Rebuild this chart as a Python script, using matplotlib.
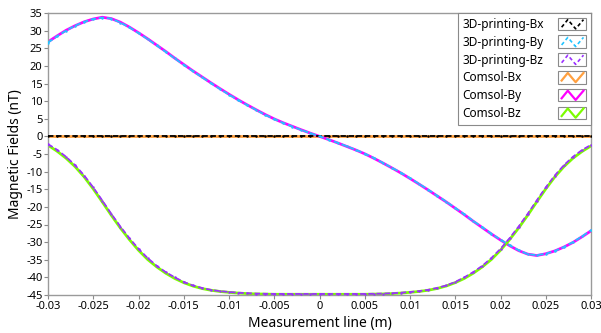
import numpy as np
import matplotlib
matplotlib.use("Agg")
import matplotlib.pyplot as plt
from matplotlib.legend_handler import HandlerBase
from matplotlib.patches import Rectangle
from matplotlib.lines import Line2D

plt.rcParams['font.family'] = ['Noto Sans', 'DejaVu Sans']
plt.rcParams['axes.unicode_minus'] = False

# ---------------- data ----------------
x_pos = [-0.030, -0.029, -0.028, -0.027, -0.026, -0.025, -0.024, -0.023, -0.022, -0.021,
         -0.020, -0.019, -0.018, -0.017, -0.016, -0.015, -0.014, -0.013, -0.012, -0.011,
         -0.010, -0.009, -0.008, -0.007, -0.006, -0.005, -0.004, -0.003, -0.002, -0.001,
         0.000, 0.001, 0.002, 0.003, 0.004, 0.005, 0.006, 0.007, 0.008, 0.009,
         0.010, 0.011, 0.012, 0.013, 0.014, 0.015, 0.016, 0.017, 0.018, 0.019,
         0.020, 0.021, 0.022, 0.023, 0.024, 0.025, 0.026, 0.027, 0.028, 0.029, 0.030]

comsol_bx = [0.0] * 61
comsol_by = [26.8, 28.5, 30.1, 31.4, 32.5, 33.3, 33.8, 33.4, 32.4, 31.0,
             29.4, 27.7, 25.9, 24.1, 22.2, 20.4, 18.6, 16.9, 15.2, 13.55,
             11.95, 10.4, 8.95, 7.55, 6.2, 4.95, 3.85, 2.85, 1.85, 0.9,
             0.0, -0.9, -1.85, -2.85, -3.85, -4.95, -6.2, -7.55, -8.95, -10.4,
             -11.95, -13.55, -15.2, -16.9, -18.6, -20.4, -22.2, -24.1, -25.9, -27.7,
             -29.4, -31.0, -32.4, -33.4, -33.8, -33.3, -32.5, -31.4, -30.1, -28.5, -26.8]
comsol_bz = [-2.5, -4.2, -6.2, -8.6, -11.5, -14.9, -18.6, -22.4, -26.0, -29.3,
             -32.3, -34.9, -37.0, -38.8, -40.3, -41.5, -42.45, -43.15, -43.65, -44.0,
             -44.25, -44.45, -44.6, -44.7, -44.75, -44.8, -44.8, -44.8, -44.8, -44.8,
             -44.8, -44.8, -44.8, -44.8, -44.8, -44.8, -44.75, -44.7, -44.6, -44.45,
             -44.25, -44.0, -43.65, -43.15, -42.45, -41.5, -40.3, -38.8, -37.0, -34.9,
             -32.3, -29.3, -26.0, -22.4, -18.6, -14.9, -11.5, -8.6, -6.2, -4.3, -2.7]

print_bx = [0.0] * 61
print_by = [26.6, 28.4, 30.0, 31.4, 32.5, 33.3, 33.7, 33.4, 32.3, 30.9,
            29.3, 27.6, 25.8, 24.0, 22.1, 20.3, 18.5, 16.8, 15.1, 13.45,
            11.85, 10.3, 8.9, 7.5, 6.1, 4.9, 3.8, 2.8, 1.8, 0.9,
            0.0, -0.9, -1.8, -2.8, -3.8, -4.9, -6.1, -7.5, -8.9, -10.3,
            -11.85, -13.45, -15.1, -16.8, -18.5, -20.3, -22.1, -24.0, -25.8, -27.6,
            -29.3, -30.9, -32.3, -33.4, -33.7, -33.3, -32.5, -31.4, -30.0, -28.4, -26.6]
print_bz = [-2.2, -3.8, -5.8, -8.2, -11.1, -14.5, -18.2, -22.0, -25.6, -28.9,
            -31.9, -34.5, -36.7, -38.5, -40.0, -41.3, -42.3, -43.0, -43.55, -43.9,
            -44.15, -44.35, -44.5, -44.6, -44.65, -44.7, -44.7, -44.7, -44.7, -44.7,
            -44.7, -44.7, -44.7, -44.7, -44.7, -44.7, -44.65, -44.6, -44.5, -44.35,
            -44.15, -43.9, -43.55, -43.0, -42.3, -41.3, -40.0, -38.5, -36.7, -34.5,
            -31.9, -28.9, -25.6, -22.0, -18.2, -14.5, -11.1, -8.2, -5.8, -3.9, -2.4]

labels_print = ['3D-printing-Bx', '3D-printing-By', '3D-printing-Bz']
labels_comsol = ['Comsol-Bx', 'Comsol-By', 'Comsol-Bz']
colors_print = ['#000000', '#22c4ff', '#9b30ff']
colors_comsol = ['#ffa040', '#ff00ff', '#7cfc00']

x_ticks = [-0.03, -0.025, -0.02, -0.015, -0.01, -0.005, 0, 0.005, 0.01, 0.015, 0.02, 0.025, 0.03]
x_ticklabels = ['-0.03', '-0.025', '-0.02', '-0.015', '-0.01', '-0.005', '0',
                '0.005', '0.01', '0.015', '0.02', '0.025', '0.03']
y_ticks = list(range(-45, 40, 5))


class BoxZig(HandlerBase):
    def __init__(self, dashed=False):
        super().__init__()
        self.dashed = dashed

    def create_artists(self, legend, orig_handle, xdescent, ydescent,
                       width, height, fontsize, trans):
        x0, y0 = -xdescent, -ydescent
        rect = Rectangle((x0, y0), width, height, facecolor='white',
                         edgecolor='#8a8a8a', lw=0.8, transform=trans)
        xs = x0 + width * np.array([0.12, 0.34, 0.62, 0.90])
        ys = y0 + height * np.array([0.25, 0.85, 0.12, 0.85])
        line = Line2D(xs, ys, color=orig_handle.get_color(), transform=trans,
                      lw=1.6 if not self.dashed else 1.2,
                      linestyle=(0, (2.2, 1.6)) if self.dashed else '-')
        return [rect, line]


fig = plt.figure(figsize=(6.01, 3.33), dpi=100)
ax = fig.add_axes([48 / 601, 1 - 295 / 333, (591 - 48) / 601, (295 - 13) / 333])

comsol_lines = []
for ys, c, lab in zip([comsol_bx, comsol_by, comsol_bz], colors_comsol, labels_comsol):
    ln, = ax.plot(x_pos, ys, color=c, lw=2.0, label=lab, zorder=2)
    comsol_lines.append(ln)
print_lines = []
for ys, c, lab in zip([print_bx, print_by, print_bz], colors_print, labels_print):
    ln, = ax.plot(x_pos, ys, color=c, lw=1.3, linestyle=(0, (3, 1.5)),
                  marker='o', markersize=1.8, markeredgewidth=0, label=lab, zorder=3)
    print_lines.append(ln)

ax.set_xlim(-0.03, 0.03)
ax.set_ylim(-45, 35)
ax.set_xticks(x_ticks)
ax.set_xticklabels(x_ticklabels)
ax.set_yticks(y_ticks)
ax.tick_params(axis='both', labelsize=8, length=3, width=0.8, color='#8a8a8a', pad=1)
for s in ax.spines.values():
    s.set_color('#9a9a9a')
    s.set_linewidth(1.0)
ax.set_xlabel('Measurement line (m)', fontsize=10, labelpad=3)
ax.set_ylabel('Magnetic Fields (nT)', fontsize=10, labelpad=2)

handles = print_lines + comsol_lines
hmap = {}
for h in print_lines:
    hmap[h] = BoxZig(dashed=True)
for h in comsol_lines:
    hmap[h] = BoxZig(dashed=False)
fs = 8.5
leg = ax.legend(handles=handles, labels=labels_print + labels_comsol,
                loc='upper right', borderaxespad=0, fontsize=fs,
                handler_map=hmap, markerfirst=False, fancybox=False,
                framealpha=1, edgecolor='#8a8a8a',
                handlelength=28 / (fs * 100 / 72), handleheight=15 / (fs * 100 / 72),
                labelspacing=0.38, borderpad=0.4, handletextpad=0.5)
leg.get_frame().set_linewidth(0.8)
try:
    for col in leg._legend_handle_box.get_children():
        for row in col.get_children():
            row.mode = 'expand'
            row.width = 124
except Exception:
    pass

fig.savefig('out.png', dpi=100)
